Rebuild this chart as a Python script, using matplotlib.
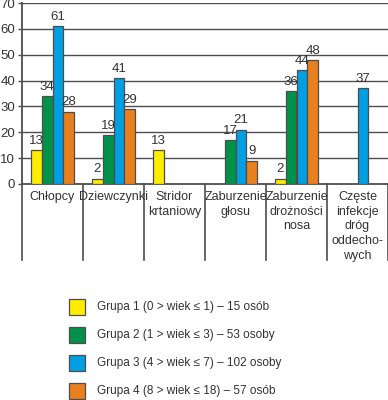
import numpy as np
import matplotlib
matplotlib.use("Agg")
import matplotlib.pyplot as plt
from matplotlib.patches import Rectangle
from matplotlib.transforms import blended_transform_factory

plt.rcParams['font.family'] = ['Liberation Sans', 'DejaVu Sans']

categories = ["Chłopcy", "Dziewczynki", "Stridor\nkrtaniowy", "Zaburzenie\ngłosu",
              "Zaburzenie\ndrożności\nnosa", "Częste\ninfekcje\ndróg\noddecho-\nwych"]
grupa1 = [13, 2, 13, None, 2, None]
grupa2 = [34, 19, None, 17, 36, None]
grupa3 = [61, 41, None, 21, 44, 37]
grupa4 = [28, 29, None, 9, 48, None]
series = [grupa1, grupa2, grupa3, grupa4]
legend_labels = ["Grupa 1 (0 > wiek ≤ 1) – 15 osób",
                 "Grupa 2 (1 > wiek ≤ 3) – 53 osoby",
                 "Grupa 3 (4 > wiek ≤ 7) – 102 osoby",
                 "Grupa 4 (8 > wiek ≤ 18) – 57 osób"]
colors = ["#FFED00", "#00924A", "#009FE3", "#E9801E"]
yticks = [0, 10, 20, 30, 40, 50, 60, 70]

W, H = 388, 400
fig = plt.figure(figsize=(W / 100, H / 100), dpi=100)
txt = "#333333"
line = "#4d4d4d"

ax_left, ax_right, ax_top, ax_bottom = 22, 388, 3, 184
ax = fig.add_axes([ax_left / W, 1 - ax_bottom / H, (ax_right - ax_left) / W, (ax_bottom - ax_top) / H])
ax.set_xlim(-0.5, len(categories) - 0.5)
ax.set_ylim(0, 70)

w = 0.18
x = np.arange(len(categories))
for si, (vals, c) in enumerate(zip(series, colors)):
    off = (si - 1.5) * w
    for xi, v in zip(x, vals):
        if v is None:
            continue
        ax.bar(xi + off, v, width=w, color=c, edgecolor=line, linewidth=0.9, zorder=3)
        ax.text(xi + off, v + 1.3, str(v), ha="center", va="bottom", fontsize=9.5, color=txt, zorder=4)

for t in yticks[1:]:
    ax.axhline(t, color=line, linewidth=1.0, zorder=1)

ax.set_yticks(yticks)
ax.set_yticklabels([str(t) for t in yticks], fontsize=9.5, color=txt)
ax.set_xticks([])
ax.tick_params(axis="y", length=3, width=1, color=line, pad=2)
for s in ["top", "right"]:
    ax.spines[s].set_visible(False)
for s in ["left", "bottom"]:
    ax.spines[s].set_color(line)
    ax.spines[s].set_linewidth(1.3)

# table below axis
trans = blended_transform_factory(ax.transData, ax.transAxes)
depth = -(260 - ax_bottom) / (ax_bottom - ax_top)
for b in np.arange(len(categories) + 1) - 0.5:
    ax.plot([b, b], [0, depth], transform=trans, color=line, linewidth=1.2, clip_on=False)
for xi, cat in zip(x, categories):
    ax.text(xi, -7 / (ax_bottom - ax_top), cat, transform=trans, ha="center", va="top",
            fontsize=9, color=txt, linespacing=1.3)

# legend
for i, (lab, c) in enumerate(zip(legend_labels, colors)):
    top = 299 + i * 28
    fig.add_artist(Rectangle((69 / W, 1 - (top + 16) / H), 16 / W, 16 / H, facecolor=c,
                             edgecolor=line, linewidth=0.9, transform=fig.transFigure))
    fig.text(97 / W, 1 - (top + 8) / H, lab, ha="left", va="center", fontsize=8.5, color=txt)

fig.savefig("out.png", dpi=100)
